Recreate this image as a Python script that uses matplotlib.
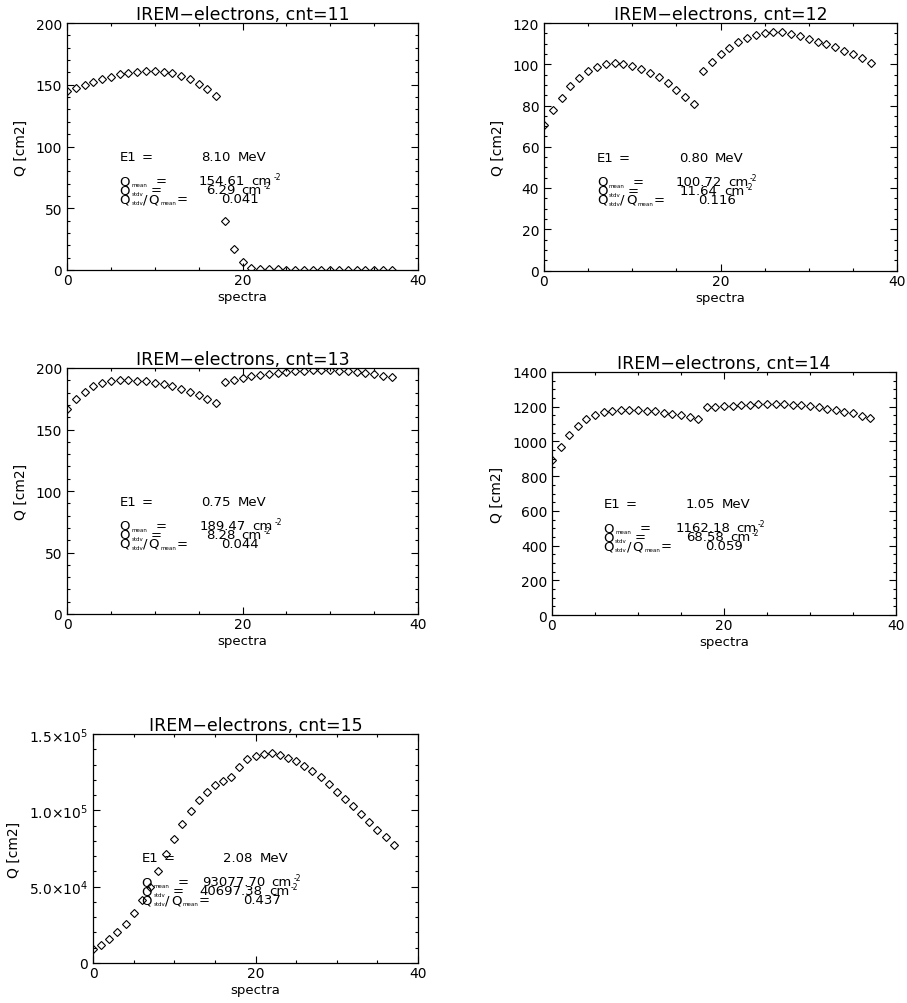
import matplotlib
matplotlib.use("Agg")
import matplotlib.pyplot as plt
import numpy as np
from matplotlib.ticker import MultipleLocator, FixedLocator, FixedFormatter

# spectrum index on the x axis
spectra = np.arange(38)

q_cnt11 = [145.1, 147.3, 149.7, 152.2, 154.7, 156.6, 158.5, 159.9, 160.7, 161.0,
           161.0, 160.4, 159.6, 157.4, 154.4, 150.8, 146.2, 141.0, 39.7, 17.2,
           6.4, 1.9, 0.6, 0.5, 0.5, 0.4, 0.4, 0.4, 0.3, 0.3,
           0.3, 0.3, 0.3, 0.3, 0.3, 0.3, 0.3, 0.3]
q_cnt12 = [70.6, 77.6, 83.7, 89.3, 93.5, 96.7, 98.9, 100.3, 100.8, 100.3,
           99.3, 97.9, 95.9, 93.7, 90.7, 87.5, 84.2, 80.7, 96.6, 101.0,
           105.0, 108.1, 110.6, 112.5, 114.0, 115.0, 115.4, 115.4, 114.6, 113.7,
           112.4, 111.0, 109.7, 108.2, 106.6, 104.9, 103.0, 100.8]
q_cnt13 = [166.7, 174.8, 180.7, 185.0, 187.7, 189.6, 190.1, 190.1, 189.8, 189.3,
           188.2, 186.9, 185.0, 183.1, 180.7, 177.8, 174.8, 171.3, 189.0, 190.4,
           191.5, 193.1, 194.1, 195.2, 196.0, 196.8, 197.4, 197.9, 198.2, 198.2,
           198.2, 197.9, 197.4, 196.8, 195.8, 195.0, 193.6, 192.3]
q_cnt14 = [893, 966, 1035, 1088, 1127, 1152, 1169, 1177, 1183, 1183,
           1183, 1177, 1173, 1165, 1160, 1152, 1140, 1129, 1196, 1198,
           1202, 1206, 1209, 1211, 1213, 1215, 1215, 1213, 1211, 1208,
           1202, 1196, 1188, 1181, 1171, 1162, 1148, 1135]
q_cnt15 = [9100, 11700, 15600, 20000, 25400, 32600, 41100, 50000, 60200, 71100,
           81500, 90800, 99500, 106500, 112100, 116700, 119500, 121700, 128600, 133400,
           135800, 136900, 137300, 136300, 134500, 132300, 129100, 125800, 121700, 117300,
           112300, 107600, 102600, 97300, 92600, 87400, 82400, 77100]

cnts = [11, 12, 13, 14, 15]
e1_mev = [8.10, 0.80, 0.75, 1.05, 2.08]
q_mean = [154.61, 100.72, 189.47, 1162.18, 93077.70]
q_stdv = [6.29, 11.64, 8.28, 68.58, 40697.38]
q_ratio = [0.041, 0.116, 0.044, 0.059, 0.437]

series = [q_cnt11, q_cnt12, q_cnt13, q_cnt14, q_cnt15]

# axes boxes in pixels: left, top, right, bottom
W, H = 907, 1004
boxes = [(67, 24, 418, 271), (544, 24, 897, 271.5), (67, 369, 418, 615),
         (552, 373, 896, 616), (93, 735, 418, 964)]
ylims = [200, 120, 200, 1400, 1.5e5]
ymajor = [50, 20, 50, 200, 5e4]
yminor = [10, 5, 10, 50, 1e4]
stdv_right = [115.5, 120.5, 115.5, 120.5, 120.5]
mean_right = [125.5, 124.5, 126.5, 126.5, 123.5]

fig = plt.figure(figsize=(W / 100, H / 100), dpi=100)


def put(ax, dx, dy, s, size=9.5, ha='left'):
    # dx, dy in pixels relative to the text anchor
    ax.annotate(s, xy=(6, 0.444), xycoords=ax.get_xaxis_transform(),
                xytext=(dx * 0.72, dy * 0.72), textcoords='offset points',
                ha=ha, va='baseline', fontsize=size, annotation_clip=False)


for i, (l, t, r, b) in enumerate(boxes):
    ax = fig.add_axes([l / W, 1 - b / H, (r - l) / W, (b - t) / H])
    ax.plot(spectra, series[i], linestyle='none', marker='D', markersize=4,
            markerfacecolor='none', markeredgecolor='black', markeredgewidth=0.8)
    ax.set_xlim(0, 40)
    ax.set_ylim(0, ylims[i])
    ax.xaxis.set_major_locator(MultipleLocator(20))
    ax.xaxis.set_minor_locator(MultipleLocator(5))
    ax.yaxis.set_major_locator(MultipleLocator(ymajor[i]))
    ax.yaxis.set_minor_locator(MultipleLocator(yminor[i]))
    if i == 4:
        ax.yaxis.set_major_locator(FixedLocator([0, 5e4, 1e5, 1.5e5]))
        ax.yaxis.set_major_formatter(FixedFormatter(
            ["0", "5.0\u00d710$^{4}$", "1.0\u00d710$^{5}$", "1.5\u00d710$^{5}$"]))
    ax.tick_params(which='both', direction='in', top=True, right=True,
                   labelsize=10, width=0.8, pad=3.5)
    ax.tick_params(axis='x', pad=2.5)
    ax.tick_params(which='major', length=5)
    ax.tick_params(which='minor', length=2.5)
    for sp in ax.spines.values():
        sp.set_linewidth(0.9)
    ax.set_title("IREM\u2212electrons, cnt=%d" % cnts[i], fontsize=12.5, pad=3)
    ax.set_xlabel("spectra", fontsize=9.5, labelpad=2)
    ax.set_ylabel("Q [cm2]", fontsize=10, labelpad=6)

    # statistics block
    put(ax, 0, 0, "E1")
    put(ax, 22, 0, "=")
    put(ax, 111, 0, "%.2f" % e1_mev[i], ha='right')
    put(ax, 118, 0, "MeV")

    y1 = -24
    put(ax, 0, y1, "Q")
    put(ax, 11.5, y1 - 2, "mean", size=4)
    put(ax, 36, y1, "=")
    put(ax, mean_right[i], y1, "%.2f" % q_mean[i], ha='right')
    put(ax, mean_right[i] + 6.5, y1, "cm")
    put(ax, mean_right[i] + 28, y1 + 5, "-2", size=5.5)

    y2 = -33
    put(ax, 0, y2, "Q")
    put(ax, 11.5, y2 - 2, "stdv", size=4)
    put(ax, 31, y2, "=")
    put(ax, stdv_right[i], y2, "%.2f" % q_stdv[i], ha='right')
    put(ax, stdv_right[i] + 6.5, y2, "cm")
    put(ax, stdv_right[i] + 28, y2 + 5, "-2", size=5.5)

    y3 = -42
    put(ax, 0, y3, "Q")
    put(ax, 11.5, y3 - 2, "stdv", size=4)
    put(ax, 23, y3, "/")
    put(ax, 29, y3, "Q")
    put(ax, 40.5, y3 - 2, "mean", size=4)
    put(ax, 57, y3, "=")
    put(ax, 139, y3, "%.3f" % q_ratio[i], ha='right')

fig.savefig("out.png", dpi=100, facecolor='white')
